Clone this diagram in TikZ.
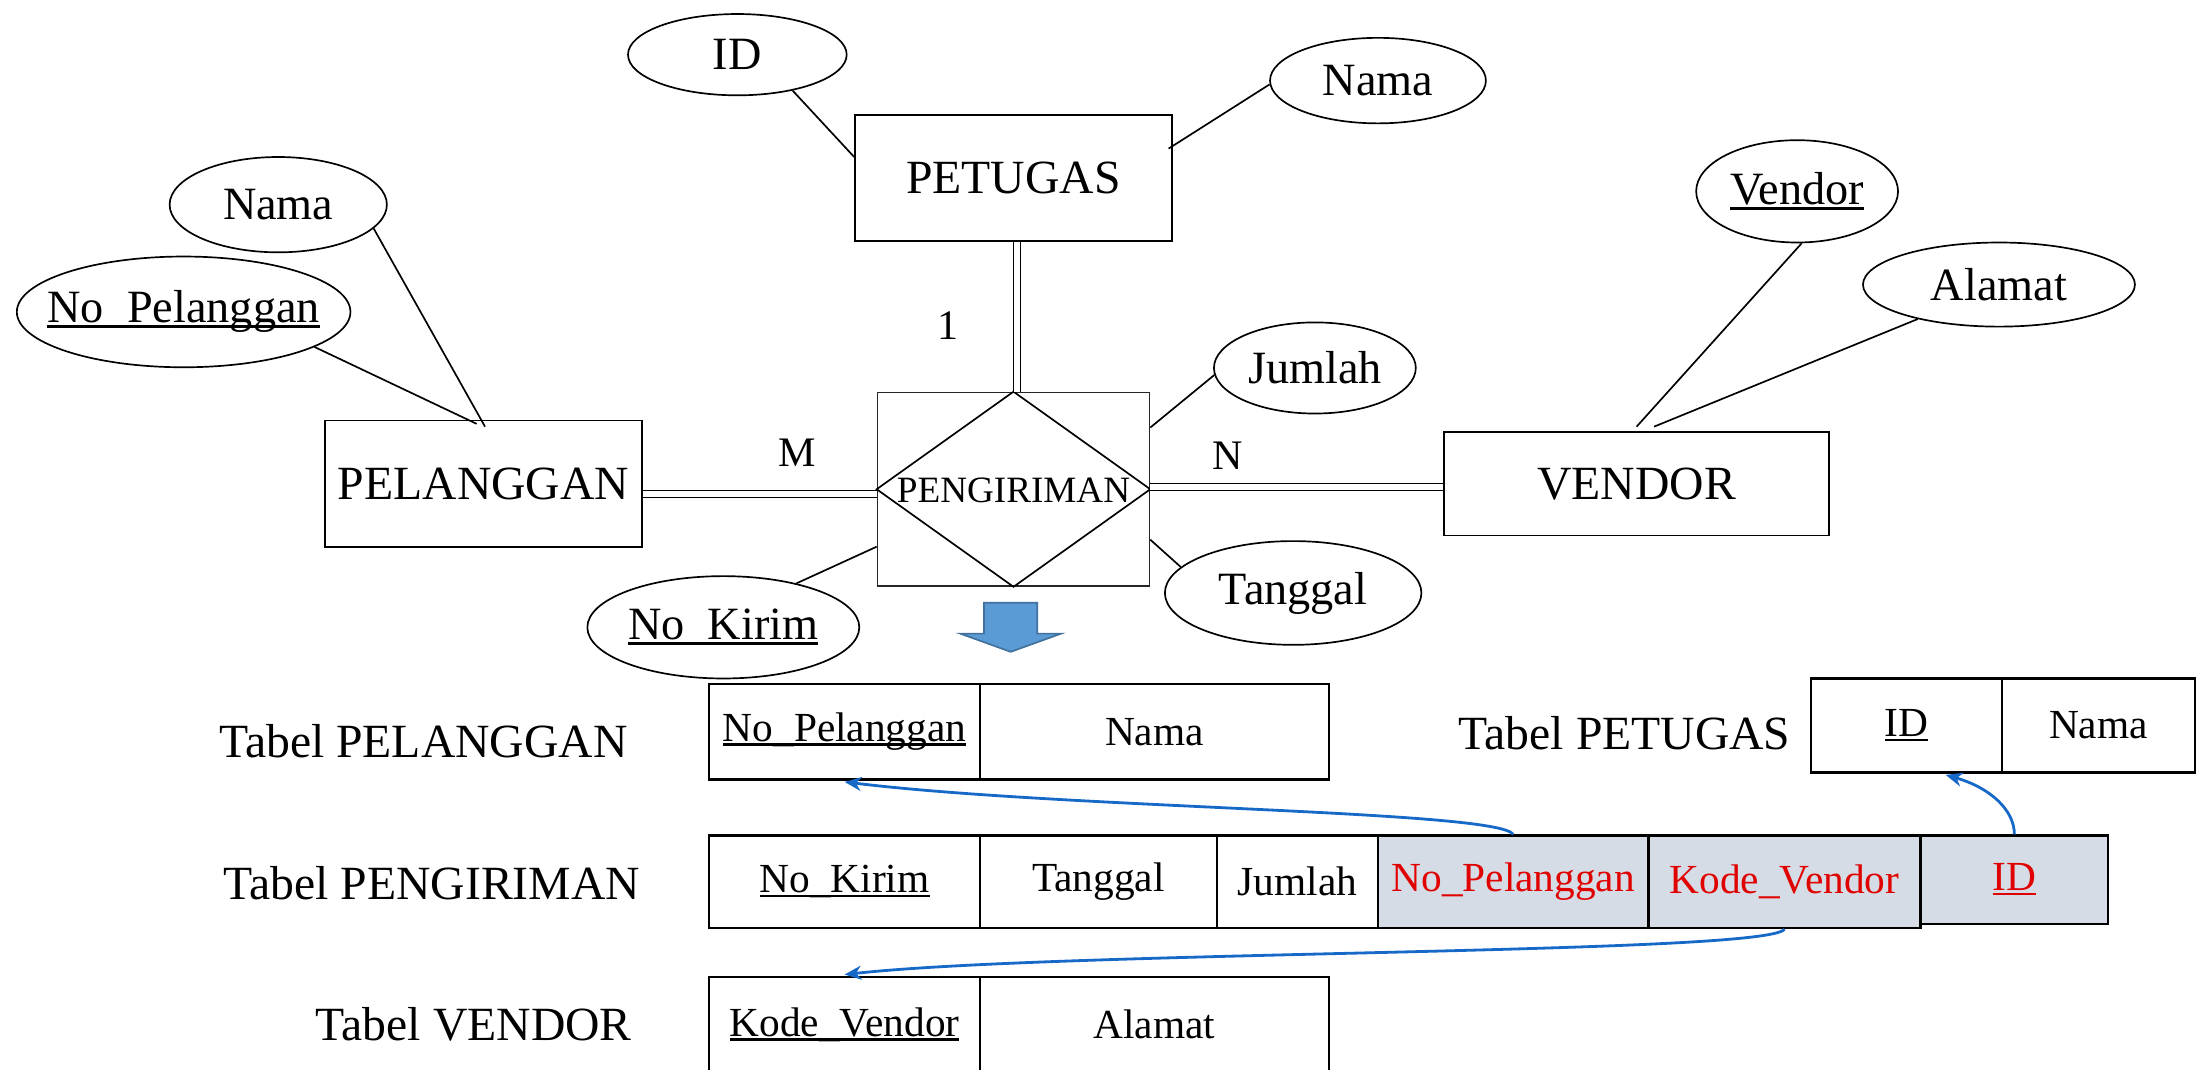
\documentclass[tikz,border=0pt]{standalone}
\usepackage{fontspec}
\setmainfont{Liberation Serif}
\usetikzlibrary{shapes.geometric,arrows.meta}
\definecolor{fkgray}{HTML}{D6DCE5}
\definecolor{keyred}{HTML}{E00000}
\definecolor{fkblue}{HTML}{1769C8}
\definecolor{arrowfill}{HTML}{5B9BD5}
\definecolor{arrowline}{HTML}{41719C}
% key attribute: text with a rule at a fixed depth under it
\newcommand\keyu[1]{\setbox0=\hbox{#1}\rlap{\rule[-0.11em]{\wd0}{0.065em}}\box0}
\begin{document}
\begin{tikzpicture}[x=1pt,y=-1pt,
  ent/.style={draw, line width=1.3pt, inner sep=0pt, font=\fontsize{34}{40}\selectfont},
  attr/.style={draw, ellipse, line width=1.2pt, inner sep=0pt, font=\fontsize{33}{38}\selectfont},
  attrtext/.style={inner sep=0pt, font=\fontsize{33}{38}\selectfont},
  conn/.style={line width=1.2pt},
  dbl/.style={double, double distance=4pt, line width=1pt},
  cell/.style={draw, line width=1.6pt, inner sep=0pt, font=\fontsize{29.5}{34}\selectfont},
  fkcell/.style={cell, fill=fkgray, text=keyred},
  tlabel/.style={font=\fontsize{34}{40}\selectfont},
  card/.style={font=\fontsize{30}{34}\selectfont},
  fk/.style={draw=fkblue, line width=2pt, -{Stealth[length=12pt,width=10pt]}},
]
\useasboundingbox (0,0) rectangle (1568,763);
\clip (0,0) rectangle (1568,763);

% ---------- ER diagram ----------
\node[ent, minimum width=226pt, minimum height=90pt] (pet) at (723,127) {PETUGAS};
\node[ent, minimum width=226pt, minimum height=90pt] (pel) at (345,345) {PELANGGAN};
\node[ent, minimum width=275pt, minimum height=74pt] (ven) at (1167.5,345) {VENDOR};
\node[draw=black!85, line width=1.2pt, minimum width=194pt, minimum height=138pt, inner sep=0pt] (relbox) at (723,349) {};
\draw[line width=1.2pt] (relbox.north) -- (relbox.east) -- (relbox.south) -- (relbox.west) -- cycle;
\node[font=\fontsize{26.5}{30}\selectfont] (rel) at (723,350) {PENGIRIMAN};

\node[attr, minimum width=156pt, minimum height=58pt] (aid) at (526,39) {ID};
\node[attr, minimum width=154pt, minimum height=61pt] (anamap) at (983,57.5) {Nama};
\node[attr, minimum width=155pt, minimum height=68pt] (anamal) at (198.5,146) {Nama};
\node[attr, minimum width=238pt, minimum height=79pt,
      label={[attrtext]center:\keyu{No\_Pelanggan}}] (anopel) at (131,222.5) {};
\node[attr, minimum width=144pt, minimum height=65pt] (ajml) at (938,262.5) {Jumlah};
\node[attr, minimum width=183pt, minimum height=74pt] (atgl) at (922.5,423) {Tanggal};
\node[attr, minimum width=194pt, minimum height=73pt] (anokirim) at (516,447.5) {\keyu{No\_Kirim}};
\node[attr, minimum width=144pt, minimum height=73pt] (aven) at (1282,136.5) {\keyu{Vendor}};
\node[attr, minimum width=194pt, minimum height=60pt] (aalm) at (1426,203) {Alamat};

% attribute links
\draw[conn] (aid.-33) -- ([yshift=15pt]pet.west);
\draw[conn] (anamap.182) -- ([yshift=21pt,xshift=-3pt]pet.east);
\draw[conn] (anamal.-14) -- ([yshift=-5pt,xshift=1pt]pel.north);
\draw[conn] (anopel.-15) -- ([yshift=-3pt,xshift=-5pt]pel.north);
\draw[conn] (ajml.184) -- ([yshift=44pt]relbox.east);
\draw[conn] (atgl.167) -- ([yshift=-36pt]relbox.east);
\draw[conn] (anokirim.31) -- ([yshift=-41pt]relbox.west);
\draw[conn] (aven.-85) -- ([yshift=3pt]ven.north);
\draw[conn] (aalm.203) -- ([yshift=3pt,xshift=12.5pt]ven.north);

% relationship links
\draw[dbl] ([xshift=2.5pt]pet.south) -- ([xshift=2.5pt]relbox.north);
\draw[dbl] ([yshift=-7.5pt]pel.east) -- ([yshift=-3.5pt]relbox.west);
\draw[dbl] ([yshift=1.5pt]relbox.east) -- ([yshift=-2.5pt]ven.west);

\node[card] (c1) at (676,232) {1};
\node[card] (cm) at (569,323) {M};
\node[card] (cn) at (876,325) {N};

% transformation arrow
\draw[fill=arrowfill, draw=arrowline, line width=1.2pt]
  (702,430) -- (740,430) -- (740,452) -- (757,452) -- (721,465) -- (685,452) -- (702,452) -- cycle;

% ---------- tables ----------
\node[tlabel] (tpel) at (302,529) {Tabel PELANGGAN};
\node[tlabel] (tpet) at (1159,523) {Tabel PETUGAS};
\node[tlabel] (tpgr) at (308,630) {Tabel PENGIRIMAN};
\node[tlabel] (tven) at (338,731) {Tabel VENDOR};

\node[cell, minimum width=193pt, minimum height=68pt] (plNoPel) at (602.5,522) {\keyu{No\_Pelanggan}};
\node[cell, minimum width=249pt, minimum height=68pt] (plNama) at (823.5,522) {Nama};

\node[cell, minimum width=136pt, minimum height=67pt] (ptId) at (1360,517.5) {\keyu{ID}};
\node[cell, minimum width=138pt, minimum height=67pt] (ptNama) at (1497,517.5) {Nama};

\node[cell, minimum width=193pt, minimum height=66pt] (pgNoKirim) at (602.5,629) {\keyu{No\_Kirim}};
\node[cell, minimum width=169pt, minimum height=66pt] (pgTgl) at (783.5,629) {Tanggal};
\node[cell, minimum width=115pt, minimum height=66pt] (pgJml) at (925.5,629) {Jumlah};
\node[fkcell, minimum width=193pt, minimum height=66pt] (pgNoPel) at (1079.5,629) {No\_Pelanggan};
\node[fkcell, minimum width=194pt, minimum height=66pt] (pgKode) at (1273,629) {Kode\_Vendor};
\node[fkcell, minimum width=134pt, minimum height=63pt] (pgId) at (1437,627.5) {\keyu{ID}};

\node[cell, minimum width=193pt, minimum height=68pt] (vdKode) at (602.5,731) {\keyu{Kode\_Vendor}};
\node[cell, minimum width=249pt, minimum height=68pt] (vdAlm) at (823.5,731) {Alamat};

% foreign key references
\draw[fk] (pgNoPel.north) .. controls (1068,578) and (760,577) .. ([yshift=-1pt]plNoPel.south);
\draw[fk] (pgKode.south) .. controls (1262,681) and (760,678) .. ([yshift=1pt]vdKode.north);
\draw[fk] (pgId.north) .. controls (1437,578) and (1420,562) .. ([xshift=28pt,yshift=-1pt]ptId.south);
\end{tikzpicture}
\end{document}
